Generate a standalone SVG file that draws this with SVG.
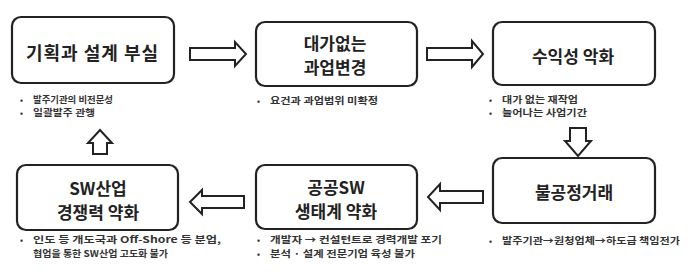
<svg xmlns="http://www.w3.org/2000/svg" width="700" height="280" viewBox="0 0 700 280">
<style>
.box{fill:#fff;stroke:#222;stroke-width:2.2}
.ttl{font-family:"Noto Sans CJK KR","Noto Sans",sans-serif;font-size:17px;font-weight:700;fill:#222;text-anchor:middle;dominant-baseline:central}
.bl{font-family:"Noto Sans CJK KR","Noto Sans",sans-serif;font-size:9px;font-weight:700;fill:#333;dominant-baseline:central}
.dot{font-family:"Noto Sans CJK KR",sans-serif;font-size:8px;font-weight:700;fill:#333;dominant-baseline:central}
.arr{fill:#fff;stroke:#222;stroke-width:2;stroke-linejoin:miter}
</style>
<rect width="700" height="280" fill="#fff"/>
<g id="connectors">
<polygon class="arr" points="190,48 235,48 235,42 246,54 235,66 235,60 190,60"/>
<polygon class="arr" points="427,48 472,48 472,41 483,54 472,67 472,60 427,60"/>
<polygon class="arr" points="570,128 586,128 586,141 591,141 578,156 565,141 570,141"/>
<polygon class="arr" points="483,191 440,191 440,184 428,197 440,210 440,203 483,203"/>
<polygon class="arr" points="244,196 202,196 202,190 190,202 202,214 202,208 244,208"/>
<polygon class="arr" points="93,154 93,143 88,143 100,130 112,143 107,143 107,154"/>
</g>
<g id="node1">
<rect class="box" x="12" y="17" width="162" height="66" rx="9"/>
<text class="ttl" x="92" y="52" style="font-size:18px" textLength="132">기획과 설계 부실</text>
<text class="dot" x="20" y="99.5">•</text>
<text class="bl" x="33" y="99.5" textLength="80" lengthAdjust="spacingAndGlyphs">발주기관의 비전문성</text>
<text class="dot" x="20" y="112.5">•</text>
<text class="bl" x="33" y="112.5" textLength="62" lengthAdjust="spacingAndGlyphs">일괄발주 관행</text>
</g>
<g id="node2">
<rect class="box" x="256" y="22" width="161" height="64" rx="9"/>
<text class="ttl" x="335" y="42">대가없는</text>
<text class="ttl" x="335" y="66">과업변경</text>
<text class="dot" x="257" y="100">•</text>
<text class="bl" x="270" y="100" textLength="108" lengthAdjust="spacingAndGlyphs">요건과 과업범위 미확정</text>
</g>
<g id="node3">
<rect class="box" x="493" y="22" width="162" height="63" rx="9"/>
<text class="ttl" x="573" y="55">수익성 악화</text>
<text class="dot" x="489" y="99">•</text>
<text class="bl" x="502" y="99" textLength="76" lengthAdjust="spacingAndGlyphs">대가 없는 재작업</text>
<text class="dot" x="489" y="112.5">•</text>
<text class="bl" x="502" y="112.5" textLength="85" lengthAdjust="spacingAndGlyphs">늘어나는 사업기간</text>
</g>
<g id="node4">
<rect class="box" x="493" y="158" width="162" height="65" rx="9"/>
<text class="ttl" x="574" y="191">불공정거래</text>
<text class="dot" x="489" y="240">•</text>
<text class="bl" x="502" y="240" textLength="178" lengthAdjust="spacingAndGlyphs">발주기관→원청업체→하도급 책임전가</text>
</g>
<g id="node5">
<rect class="box" x="256" y="165" width="161" height="64" rx="9"/>
<text class="ttl" x="336" y="186">공공SW</text>
<text class="ttl" x="336" y="210">생태계 약화</text>
<text class="dot" x="257" y="239">•</text>
<text class="bl" x="270" y="239" textLength="172" lengthAdjust="spacingAndGlyphs">개발자 → 컨설턴트로 경력개발 포기</text>
<text class="dot" x="257" y="253">•</text>
<text class="bl" x="270" y="253" textLength="145" lengthAdjust="spacingAndGlyphs">분석 · 설계 전문기업 육성 불가</text>
</g>
<g id="node6">
<rect class="box" x="17" y="165" width="161" height="65" rx="9"/>
<text class="ttl" x="98" y="187">SW산업</text>
<text class="ttl" x="98" y="211">경쟁력 약화</text>
<text class="dot" x="20" y="239">•</text>
<text class="bl" x="33" y="239" textLength="188" lengthAdjust="spacingAndGlyphs">인도 등 개도국과 Off-Shore 등 분업,</text>
<text class="bl" x="33" y="253" textLength="135" lengthAdjust="spacingAndGlyphs">협업을 통한 SW산업 고도화 불가</text>
</g>
</svg>
